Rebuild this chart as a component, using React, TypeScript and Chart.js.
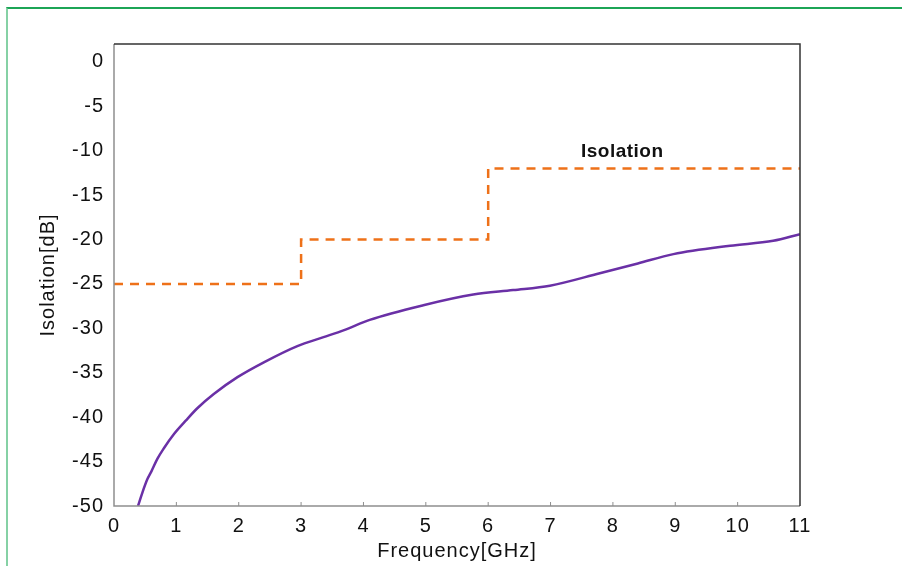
import React, { useEffect, useRef } from "react";
import { Chart, registerables } from "chart.js";

Chart.register(...registerables);

// Measured isolation curve
const measFreq = [0.385, 0.45, 0.534, 0.6, 0.695, 0.8, 0.962, 1.15, 1.336, 1.6, 1.98, 2.41, 2.94, 3.36, 3.69, 4.1, 4.96, 5.76, 6.4, 6.99, 7.79, 8.4, 8.97, 9.88, 10.57, 11];
const measIso = [-50, -48.6, -47.0, -46.1, -44.7, -43.5, -41.9, -40.4, -39.0, -37.4, -35.5, -33.8, -32.0, -31.0, -30.2, -29.05, -27.4, -26.2, -25.7, -25.2, -23.8, -22.7, -21.65, -20.7, -20.15, -19.4];

// Specification mask (corner points)
const maskFreq = [0, 3, 3, 6, 6, 11];
const maskLevel = [-25, -25, -20, -20, -12, -12];

const xTickValues = [0, 1, 2, 3, 4, 5, 6, 7, 8, 9, 10, 11];
const yTickValues = [0, -5, -10, -15, -20, -25, -30, -35, -40, -45, -50];

const maskLabel = { text: "Isolation", x: 8.15, y: -10.7 };

const FONT = '"Liberation Sans", Arial, Helvetica, sans-serif';

const framePlugin = {
  id: "framePlugin",
  beforeDraw(chart: any) {
    chart.ctx.letterSpacing = "1px";
  },
  afterDraw(chart: any) {
    const { ctx, chartArea, scales } = chart;
    const { left, right, top, bottom } = chartArea;
    ctx.save();
    ctx.lineWidth = 1.5;
    ctx.strokeStyle = "#8e8e8e";
    ctx.beginPath();
    ctx.moveTo(left, top);
    ctx.lineTo(left, bottom);
    ctx.lineTo(right, bottom);
    ctx.stroke();
    ctx.strokeStyle = "#333333";
    ctx.beginPath();
    ctx.moveTo(left, top);
    ctx.lineTo(right, top);
    ctx.lineTo(right, bottom);
    ctx.stroke();
    // inward ticks on x axis
    ctx.strokeStyle = "#8e8e8e";
    ctx.lineWidth = 1;
    xTickValues.forEach((v) => {
      const px = scales.x.getPixelForValue(v);
      if (px <= left + 1 || px >= right - 1) return;
      ctx.beginPath();
      ctx.moveTo(px, bottom);
      ctx.lineTo(px, bottom - 4);
      ctx.stroke();
    });
    // label
    ctx.letterSpacing = "0.5px";
    ctx.font = `bold 19px ${FONT}`;
    ctx.fillStyle = "#111111";
    ctx.textAlign = "center";
    ctx.textBaseline = "alphabetic";
    ctx.fillText(
      maskLabel.text,
      scales.x.getPixelForValue(maskLabel.x),
      scales.y.getPixelForValue(maskLabel.y)
    );
    ctx.restore();
  },
};

export default function App() {
  const ref = useRef<HTMLCanvasElement>(null);

  useEffect(() => {
    if (!ref.current) return;
    const chart = new Chart(ref.current, {
      type: "line",
      data: {
        datasets: [
          {
            label: "Mask",
            data: maskFreq.map((x, i) => ({ x, y: maskLevel[i] })),
            borderColor: "#ee7119",
            borderWidth: 2.5,
            borderDash: [9, 7],
            pointRadius: 0,
            tension: 0,
            fill: false,
          },
          {
            label: "Measured",
            data: measFreq.map((x, i) => ({ x, y: measIso[i] })),
            borderColor: "#6a30a6",
            borderWidth: 2.5,
            pointRadius: 0,
            cubicInterpolationMode: "monotone",
            fill: false,
          },
        ],
      },
      options: {
        animation: false,
        responsive: false,
        events: [],
        layout: { padding: { left: 0, top: 44, right: 102, bottom: 0 } },
        plugins: {
          legend: { display: false },
          tooltip: { enabled: false },
        },
        scales: {
          x: {
            type: "linear",
            min: 0,
            max: 11,
            grid: { display: false, drawTicks: false },
            border: { display: false },
            afterBuildTicks: (s: any) => {
              s.ticks = xTickValues.map((v) => ({ value: v }));
            },
            afterFit: (s: any) => {
              s.height = 60;
            },
            ticks: {
              font: { size: 20, family: FONT },
              color: "#111111",
              padding: 8,
              maxRotation: 0,
              autoSkip: false,
            },
            title: {
              display: true,
              text: "Frequency[GHz]",
              font: { size: 20, family: FONT },
              color: "#111111",
              padding: { top: 0, bottom: 3 },
            },
          },
          y: {
            type: "linear",
            min: -50,
            max: 2,
            grid: { display: false, drawTicks: false },
            border: { display: false },
            afterBuildTicks: (s: any) => {
              s.ticks = yTickValues.map((v) => ({ value: v }));
            },
            afterFit: (s: any) => {
              s.width = 114;
            },
            ticks: {
              font: { size: 20, family: FONT },
              color: "#111111",
              padding: 10,
              autoSkip: false,
            },
            title: {
              display: true,
              text: "Isolation[dB]",
              font: { size: 20, family: FONT },
              color: "#111111",
              padding: { top: 36, bottom: 0 },
            },
          },
        },
      },
      plugins: [framePlugin],
    } as any);
    return () => chart.destroy();
  }, []);

  return (
    <div style={{ position: "fixed", left: 0, top: 0, width: 902, height: 566, background: "#ffffff" }}>
      <div
        style={{
          position: "absolute",
          left: 6,
          top: 7,
          right: 0,
          bottom: 0,
          borderTop: "2px solid #1ca556",
          borderLeft: "2px solid #86d1a5",
        }}
      />
      <canvas
        ref={ref}
        width={902}
        height={566}
        style={{ position: "absolute", left: 0, top: 0, width: 902, height: 566 }}
      />
    </div>
  );
}
